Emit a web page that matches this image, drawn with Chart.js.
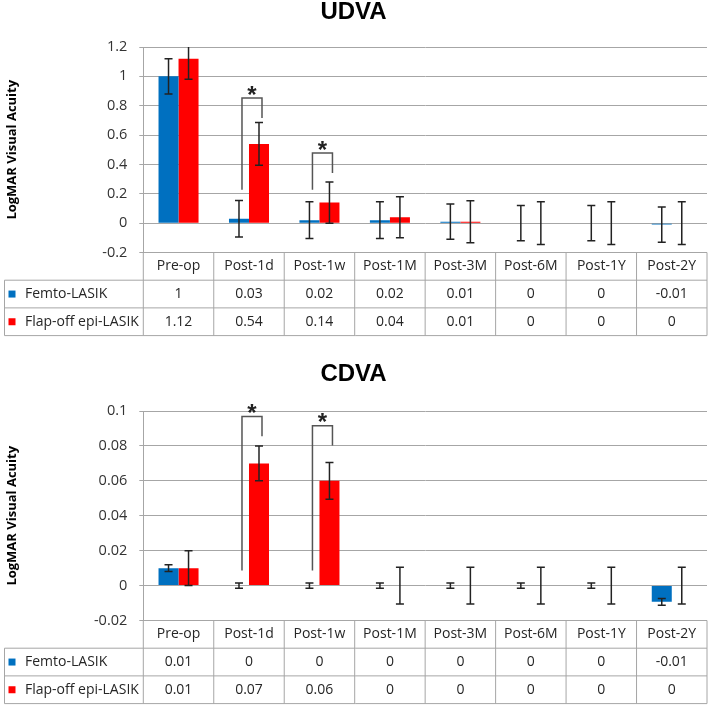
<!DOCTYPE html>
<html>
<head>
<meta charset="utf-8">
<script src="https://cdn.jsdelivr.net/npm/chart.js@4.4.1/dist/chart.umd.min.js"></script>
<style>
  html, body { margin: 0; padding: 0; background: #fff; }
  .caixa { position: relative; width: 709px; }
  #caixa-udva { height: 340px; }
  #caixa-cdva { height: 367px; }
</style>
</head>
<body>
<div class="caixa" id="caixa-udva"><canvas id="udva"></canvas></div>
<div class="caixa" id="caixa-cdva"><canvas id="cdva"></canvas></div>
<script>
const categorias = ['Pre-op', 'Post-1d', 'Post-1w', 'Post-1M', 'Post-3M', 'Post-6M', 'Post-1Y', 'Post-2Y'];
const nomesSeries = ['Femto-LASIK', 'Flap-off epi-LASIK'];
const cores = ['#0070C0', '#FF0000'];

// UDVA
const udvaFemto = [1, 0.03, 0.02, 0.02, 0.01, 0, 0, -0.01];
const udvaFlap = [1.12, 0.54, 0.14, 0.04, 0.01, 0, 0, 0];
const udvaFemtoErro = [0.12, 0.125, 0.125, 0.125, 0.12, 0.12, 0.12, 0.12];
const udvaFlapErro = [0.14, 0.145, 0.14, 0.14, 0.143, 0.145, 0.145, 0.145];
const udvaTicks = [-0.2, 0, 0.2, 0.4, 0.6, 0.8, 1, 1.2];
const udvaColchCat = [1, 2];
const udvaColchTopo = [0.853, 0.478];
const udvaColchEsq = [0.227, 0.227];
const udvaColchDir = [0.717, 0.341];

// CDVA
const cdvaFemto = [0.01, 0, 0, 0, 0, 0, 0, -0.0093];
const cdvaFlap = [0.01, 0.07, 0.06, 0, 0, 0, 0, 0];
const cdvaFemtoErro = [0.0019, 0.0015, 0.0015, 0.0015, 0.0015, 0.0015, 0.0015, 0.0019];
const cdvaFlapErro = [0.01, 0.01, 0.0105, 0.0105, 0.0105, 0.0105, 0.0105, 0.0105];
const cdvaTicks = [-0.02, 0, 0.02, 0.04, 0.06, 0.08, 0.1];
const cdvaColchCat = [1, 2];
const cdvaColchTopo = [0.0969, 0.0916];
const cdvaColchEsq = [0.0086, 0.0086];
const cdvaColchDir = [0.0855, 0.0802];

const corGrade = '#a6a6a6';
const corTexto = '#262626';
const fmt = v => parseFloat(v.toFixed(2)).toString();

const barrasErro = {
  id: 'barrasErro',
  afterDatasetsDraw(chart) {
    const ctx = chart.ctx;
    const y = chart.scales.y;
    const a = chart.chartArea;
    ctx.save();
    ctx.beginPath();
    ctx.rect(a.left, a.top, a.right - a.left, a.bottom - a.top);
    ctx.clip();
    ctx.strokeStyle = '#222222';
    ctx.lineWidth = 1.5;
    chart.data.datasets.forEach((ds, i) => {
      chart.getDatasetMeta(i).data.forEach((bar, j) => {
        const v = ds.data[j], e = ds.erro[j];
        const yt = y.getPixelForValue(v + e);
        const yb = y.getPixelForValue(v - e);
        ctx.beginPath();
        ctx.moveTo(bar.x, yt); ctx.lineTo(bar.x, yb);
        ctx.moveTo(bar.x - 4, yt); ctx.lineTo(bar.x + 4, yt);
        ctx.moveTo(bar.x - 4, yb); ctx.lineTo(bar.x + 4, yb);
        ctx.stroke();
      });
    });
    ctx.restore();
  }
};

const colchetes = {
  id: 'colchetes',
  afterDatasetsDraw(chart, args, opts) {
    const ctx = chart.ctx;
    const y = chart.scales.y;
    const m0 = chart.getDatasetMeta(0), m1 = chart.getDatasetMeta(1);
    ctx.save();
    ctx.strokeStyle = '#555555';
    ctx.lineWidth = 1.5;
    opts.cat.forEach((c, k) => {
      const xe = m0.data[c].x + 3, xd = m1.data[c].x + 3;
      const yt = y.getPixelForValue(opts.topo[k]);
      ctx.beginPath();
      ctx.moveTo(xe, y.getPixelForValue(opts.esq[k]));
      ctx.lineTo(xe, yt);
      ctx.lineTo(xd, yt);
      ctx.lineTo(xd, y.getPixelForValue(opts.dir[k]));
      ctx.stroke();
      ctx.fillStyle = '#222';
      ctx.font = 'bold 24px "Liberation Sans"';
      ctx.textAlign = 'center';
      ctx.textBaseline = 'alphabetic';
      ctx.fillText('*', (xe + xd) / 2, yt + 4.7);
    });
    ctx.restore();
  }
};

const tabela = {
  id: 'tabela',
  afterDraw(chart) {
    const ctx = chart.ctx;
    const x = chart.scales.x;
    const a = chart.chartArea;
    const n = chart.data.labels.length;
    const passo = (a.right - a.left) / n;
    const h = 27.7;
    const esq = 4.5;
    const linhas = [a.bottom, a.bottom + h, a.bottom + 2 * h, a.bottom + 3 * h];
    ctx.save();
    ctx.strokeStyle = corGrade;
    ctx.lineWidth = 1;
    ctx.beginPath();
    ctx.moveTo(a.left, linhas[0]); ctx.lineTo(a.right, linhas[0]);
    for (let r = 1; r < 4; r++) {
      ctx.moveTo(esq, linhas[r]); ctx.lineTo(a.right, linhas[r]);
    }
    for (let i = 0; i <= n; i++) {
      const xi = a.left + i * passo;
      ctx.moveTo(xi, linhas[0]); ctx.lineTo(xi, linhas[3]);
    }
    ctx.moveTo(esq, linhas[1]); ctx.lineTo(esq, linhas[3]);
    ctx.stroke();

    ctx.fillStyle = corTexto;
    ctx.font = '14px "Open Sans"';
    ctx.textBaseline = 'middle';
    ctx.textAlign = 'center';
    chart.data.labels.forEach((lab, i) => {
      ctx.fillText(lab, x.getPixelForValue(i), linhas[0] + h / 2);
    });
    chart.data.datasets.forEach((ds, r) => {
      const yc = linhas[r + 1] + h / 2;
      ctx.fillStyle = ds.backgroundColor;
      ctx.fillRect(8.5, yc - 3.5, 7, 7);
      ctx.fillStyle = corTexto;
      ctx.textAlign = 'left';
      ctx.fillText(ds.label, 25, yc);
      ctx.textAlign = 'center';
      ds.data.forEach((v, i) => {
        ctx.fillText(fmt(v), x.getPixelForValue(i), yc);
      });
    });
    ctx.restore();
  }
};

function criarGrafico(id, titulo, femto, flap, erroFemto, erroFlap, ticks, colch, tituloPad, alturaX) {
  return new Chart(document.getElementById(id), {
    type: 'bar',
    data: {
      labels: categorias,
      datasets: [
        { label: nomesSeries[0], data: femto, erro: erroFemto, backgroundColor: cores[0] },
        { label: nomesSeries[1], data: flap, erro: erroFlap, backgroundColor: cores[1] }
      ]
    },
    options: {
      responsive: true,
      maintainAspectRatio: false,
      animation: false,
      categoryPercentage: 0.568,
      barPercentage: 1,
      layout: { padding: { right: 2 } },
      plugins: {
        legend: { display: false },
        tooltip: { enabled: false },
        title: {
          display: true,
          text: titulo,
          color: '#000',
          font: { family: 'Liberation Sans', size: 24, weight: 'bold', lineHeight: 1 },
          padding: tituloPad
        },
        colchetes: colch
      },
      scales: {
        x: {
          afterFit: s => { s.height = alturaX; },
          ticks: { display: false },
          grid: { display: false },
          border: { display: false }
        },
        y: {
          min: ticks[0],
          max: ticks[ticks.length - 1],
          afterBuildTicks: s => { s.ticks = ticks.map(v => ({ value: v })); },
          afterFit: s => { s.width = 143.3; },
          grid: { color: corGrade, tickLength: 4 },
          border: { display: true, color: corGrade },
          ticks: {
            padding: 12,
            color: '#333333',
            font: { family: 'Open Sans', size: 14.5 },
            callback: v => fmt(v)
          },
          title: {
            display: true,
            text: 'LogMAR Visual Acuity',
            color: '#000',
            font: { family: 'Open Sans', size: 13, weight: 'bold' }
          }
        }
      }
    },
    plugins: [barrasErro, colchetes, tabela]
  });
}

criarGrafico('udva', 'UDVA', udvaFemto, udvaFlap, udvaFemtoErro, udvaFlapErro, udvaTicks,
  { cat: udvaColchCat, topo: udvaColchTopo, esq: udvaColchEsq, dir: udvaColchDir },
  { top: 0, bottom: 23 }, 87.5);

criarGrafico('cdva', 'CDVA', cdvaFemto, cdvaFlap, cdvaFemtoErro, cdvaFlapErro, cdvaTicks,
  { cat: cdvaColchCat, topo: cdvaColchTopo, esq: cdvaColchEsq, dir: cdvaColchDir },
  { top: 22.7, bottom: 24.3 }, 86.5);
</script>
</body>
</html>
